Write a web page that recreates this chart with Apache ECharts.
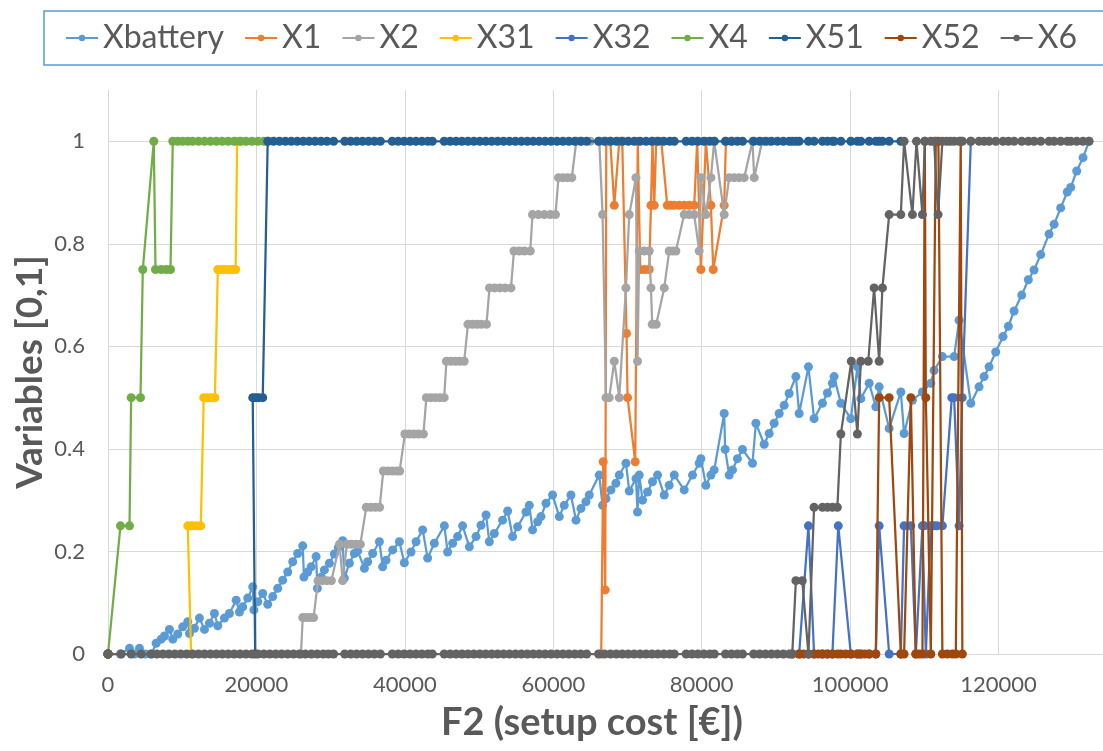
<!DOCTYPE html>
<html>
<head>
<meta charset="utf-8">
<script src="https://cdn.jsdelivr.net/npm/echarts@6/dist/echarts.min.js"></script>
<style>
  html, body { margin: 0; padding: 0; background: #ffffff; overflow: hidden; }
  #chart { width: 1103px; height: 751px; }
</style>
</head>
<body>
<div id="chart"></div>
<script>
// Decision variables along the Pareto front, plotted against setup cost F2 [€].
// Each series is a list of [F2 cost, variable value] pairs.

const seriesNames = ['Xbattery', 'X1', 'X2', 'X31', 'X32', 'X4', 'X51', 'X52', 'X6'];
const seriesColors = ['#5b9bd5', '#ed7d31', '#a5a5a5', '#ffc000', '#4472c4', '#70ad47', '#255e91', '#9e480e', '#636363'];

const xTickValues = [0, 20000, 40000, 60000, 80000, 100000, 120000, 140000];
const yTickValues = [0, 0.2, 0.4, 0.6, 0.8, 1];

const xbattery = [
  [0,0],[1680,0],[2900,0.011],[3570,0],[4240,0.011],[5050,0],[5860,0],[6490,0.021],[7170,0.029],[7610,0.035],
  [8280,0.048],[8730,0.029],[9400,0.039],[10070,0.053],[10750,0.063],[10980,0.040],[11650,0.050],[12320,0.070],
  [13000,0.048],[13670,0.060],[14340,0.079],[14790,0.055],[15690,0.070],[16360,0.079],[17270,0.105],[17710,0.082],
  [18150,0.092],[18830,0.109],[19500,0.131],[19660,0.086],[20180,0.102],[20850,0.118],[21520,0.097],[22200,0.112],
  [22870,0.128],[23540,0.144],[24220,0.160],[24890,0.180],[25560,0.196],[26240,0.211],[26400,0.150],[26910,0.160],
  [27370,0.170],[28040,0.190],[28220,0.128],[28750,0.150],[29160,0.164],[29830,0.177],[30500,0.195],[31040,0.208],
  [31620,0.221],[31850,0.148],[32520,0.177],[33200,0.196],[33640,0.201],[34550,0.167],[34990,0.180],[35660,0.196],
  [36570,0.219],[37010,0.170],[37470,0.183],[38360,0.203],[39260,0.219],[39930,0.178],[40830,0.199],[41510,0.219],
  [42400,0.242],[43070,0.187],[43970,0.216],[45320,0.250],[45760,0.199],[46440,0.216],[47110,0.229],[47780,0.250],
  [48690,0.209],[49590,0.229],[50260,0.251],[50940,0.271],[51380,0.219],[52050,0.235],[53170,0.261],[53850,0.279],
  [54520,0.229],[55190,0.248],[56320,0.277],[56770,0.290],[57210,0.242],[57890,0.258],[58340,0.268],[59020,0.294],
  [59900,0.310],[60810,0.268],[61480,0.290],[62380,0.310],[63060,0.261],[63730,0.284],[64400,0.297],[64850,0.310],
  [66190,0.349],[66640,0.290],[67100,0.303],[67770,0.320],[68440,0.333],[68890,0.349],[69790,0.372],[70240,0.318],
  [71140,0.342],[71350,0.277],[71580,0.349],[72030,0.300],[72700,0.316],[73370,0.336],[74050,0.349],[74950,0.310],
  [75620,0.329],[76300,0.349],[77640,0.320],[78760,0.349],[79660,0.372],[79890,0.381],[80560,0.329],[81240,0.349],
  [81680,0.359],[83030,0.469],[83160,0.399],[83700,0.349],[84150,0.359],[84820,0.381],[85490,0.399],[86840,0.372],
  [87300,0.450],[88420,0.409],[89090,0.430],[89760,0.450],[90440,0.469],[91110,0.485],[91780,0.508],[92690,0.541],
  [93130,0.469],[94380,0.560],[95140,0.459],[96270,0.489],[96940,0.509],[97610,0.528],[97840,0.541],[98750,0.489],
  [100090,0.459],[100980,0.560],[101440,0.498],[102560,0.528],[103460,0.482],[103910,0.521],[105260,0.440],
  [106830,0.511],[107270,0.430],[108390,0.495],[109740,0.511],[110870,0.528],[111310,0.553],[112430,0.580],
  [114010,0.580],[114680,0.651],[116260,0.489],[117370,0.521],[118050,0.541],[118720,0.560],[119620,0.589],
  [120600,0.619],[121320,0.639],[122090,0.669],[123120,0.700],[124010,0.730],[124780,0.749],[125680,0.779],
  [126800,0.819],[127480,0.838],[128370,0.870],[129260,0.901],[129720,0.910],[130530,0.942],[131380,0.968],[132190,1]
];

const x1 = [
  [0,0],[66460,0],[66730,0.375],[67000,0.125],[67140,1],[67680,1],[68220,0.875],[68890,1],[69290,1],[69870,0.625],
  [70010,0.5],[71040,0.375],[71380,1],[71720,0.75],[72320,0.75],[72930,0.75],[73160,0.875],[73370,1],[73600,0.875],
  [73870,1],[74550,1],[75360,0.875],[75850,0.875],[76300,0.875],[76970,0.875],[77640,0.875],[78310,0.875],
  [78990,0.875],[79390,1],[79890,0.75],[80560,1],[81240,0.875],[81550,0.75],[83030,0.875],[83260,1],[84110,1]
];

const x2 = [
  [0,0],[26000,0],[26240,0.071],[26700,0.071],[27200,0.071],[27700,0.071],[28300,0.143],[28900,0.143],[29500,0.143],
  [30100,0.143],[31200,0.214],[31620,0.143],[32200,0.214],[32800,0.214],[33400,0.214],[34000,0.214],[34800,0.286],
  [35400,0.286],[36000,0.286],[36600,0.286],[37100,0.357],[37700,0.357],[38300,0.357],[38900,0.357],[39300,0.357],
  [40000,0.429],[40600,0.429],[41200,0.429],[41800,0.429],[42500,0.429],[42900,0.5],[43500,0.5],[44100,0.5],
  [44700,0.5],[45300,0.5],[45600,0.571],[46200,0.571],[46800,0.571],[47400,0.571],[48000,0.571],[48500,0.643],
  [49100,0.643],[49700,0.643],[50300,0.643],[51000,0.643],[51400,0.714],[52100,0.714],[52800,0.714],[53500,0.714],
  [54300,0.714],[54700,0.786],[55400,0.786],[56100,0.786],[56900,0.786],[57200,0.857],[58000,0.857],[58800,0.857],
  [59600,0.857],[60300,0.857],[60700,0.929],[61300,0.929],[61900,0.929],[62500,0.929],[63100,1],[63800,1],[65000,1],
  [66200,1],[66640,0.857],[67100,0.5],[67540,0.5],[68220,0.571],[68890,0.5],[69790,0.714],[70240,0.857],
  [71140,0.929],[71350,0.571],[71580,0.786],[72260,0.786],[72930,0.786],[73160,0.714],[73330,0.643],[73870,0.643],
  [74950,0.714],[75620,0.786],[76070,0.786],[76520,0.786],[77640,0.857],[78310,0.857],[78990,0.857],[79660,0.786],
  [79890,0.929],[80560,0.857],[81240,0.929],[81680,1],[83030,0.857],[83700,0.929],[84370,0.929],[85050,0.929],
  [85720,0.929],[86840,1],[87070,0.929],[88150,1],[89000,1]
];

const x31 = [
  [0,0],[11200,0],[10750,0.25],[11300,0.25],[11900,0.25],[12500,0.25],[12900,0.5],[13400,0.5],[13900,0.5],
  [14400,0.5],[14800,0.75],[15300,0.75],[15800,0.75],[16300,0.75],[16800,0.75],[17200,0.75],[17400,1],[18000,1]
];

const x32 = [
  [0,0],[93130,0],[94380,0.25],[95140,0],[96270,0],[96940,0],[97610,0],[98400,0.25],[100090,0],[100980,0],
  [101440,0],[102560,0],[103460,0],[103910,0.25],[105260,0],[106830,0],[107270,0.25],[108180,0.25],[108850,0],
  [109740,0.25],[110000,0.25],[110200,0],[110870,0.25],[111310,0.25],[111700,0.25],[112430,0.25],[113700,0.5],
  [114010,0.5],[114680,0.25],[115100,0.5],[116260,1]
];

const x4 = [
  [0,0],[1680,0.25],[2900,0.25],[3120,0.5],[4380,0.5],[4690,0.75],[6170,1],[6400,0.75],[7170,0.75],[7840,0.75],
  [8420,0.75],[8730,1],[9400,1],[10070,1],[10750,1],[11400,1],[12200,1],[13000,1],[13800,1],[14600,1],[15400,1],
  [16200,1],[17000,1],[17800,1],[18600,1],[19400,1],[20200,1],[21000,1],[21520,1]
];

const x51 = [
  [0,0],[19830,0],[19500,0.5],[19900,0.5],[20300,0.5],[20850,0.5],[21520,1],[22300,1],[23100,1],[23900,1],
  [24700,1],[25500,1],[26300,1],[27100,1],[27900,1],[28700,1],[29500,1],[30400,1],[31900,1],[32700,1],[33500,1],
  [34300,1],[35100,1],[35900,1],[36700,1],[38300,1],[39100,1],[39900,1],[40700,1],[41500,1],[42300,1],[43100,1],
  [43700,1],[45300,1],[46100,1],[46900,1],[47700,1],[48500,1],[49300,1],[50100,1],[50900,1],[51700,1],[52500,1],
  [53300,1],[54100,1],[54900,1],[55700,1],[56500,1],[57300,1],[58100,1],[58900,1],[59700,1],[60500,1],[61300,1],
  [62100,1],[62900,1],[63700,1],[64500,1],[66100,1],[66900,1],[67700,1],[68500,1],[69300,1],[70100,1],[70900,1],
  [71700,1],[72500,1],[73300,1],[74100,1],[74900,1],[75700,1],[76300,1],[77900,1],[78700,1],[79500,1],[80300,1],
  [81100,1],[81700,1],[83200,1],[84000,1],[84800,1],[85500,1],[87000,1],[87800,1],[88600,1],[89400,1],[90200,1],
  [91000,1],[91800,1],[92200,1],[92690,1],[93130,1],[94380,1],[95140,1],[96270,1],[96940,1],[97610,1],[97840,1],
  [98750,1],[100090,1],[100980,1],[101440,1],[102560,1],[103460,1],[103910,1],[104350,1],[105260,1],[106830,1]
];

const x52 = [
  [0,0],[92200,0],[93130,0],[93700,0],[94380,0],[95140,0],[95700,0],[96270,0],[96940,0],[97610,0],[98300,0],
  [98750,0],[99400,0],[100090,0],[100980,0],[101440,0],[102000,0],[102560,0],[103460,0],[103910,0.5],[105260,0.5],
  [106830,0],[107270,0],[108180,0.5],[108850,0],[109300,0],[109740,0],[110060,1],[110200,0.5],[110870,0],
  [111540,1],[111890,1],[112430,0],[113100,0],[113780,0],[114240,0],[114900,1],[115120,0]
];

const x6 = [
  [0,0],[1780,0],[3120,0],[4470,0],[5800,0],[6600,0],[7400,0],[8200,0],[9000,0],[9800,0],[10600,0],[11400,0],
  [12200,0],[13000,0],[13800,0],[14600,0],[15400,0],[16200,0],[17000,0],[17800,0],[18600,0],[19400,0],[20200,0],
  [21000,0],[21800,0],[22600,0],[23400,0],[24200,0],[25000,0],[25800,0],[26600,0],[27400,0],[28200,0],[29000,0],
  [29700,0],[30400,0],[31900,0],[32700,0],[33500,0],[34300,0],[35100,0],[35900,0],[36700,0],[38300,0],[39100,0],
  [39900,0],[40700,0],[41500,0],[42300,0],[43100,0],[43700,0],[45300,0],[46100,0],[46900,0],[47700,0],[48500,0],
  [49300,0],[50100,0],[50900,0],[51700,0],[52500,0],[53300,0],[54100,0],[54900,0],[55700,0],[56500,0],[57300,0],
  [58100,0],[58900,0],[59700,0],[60500,0],[61300,0],[62100,0],[62900,0],[63700,0],[64500,0],[66100,0],[66900,0],
  [67700,0],[68500,0],[69300,0],[70100,0],[70900,0],[71700,0],[72500,0],[73300,0],[74100,0],[74900,0],[75700,0],
  [76300,0],[77900,0],[78700,0],[79500,0],[80300,0],[81100,0],[81700,0],[83200,0],[84000,0],[84800,0],[85500,0],
  [87000,0],[87800,0],[88600,0],[89400,0],[90200,0],[91000,0],[91800,0],[92200,0],[92690,0.143],[93550,0.143],
  [94380,0],[95140,0.286],[96270,0.286],[96940,0.286],[97610,0.286],[98280,0.286],[98750,0.429],[100160,0.571],
  [100980,0.429],[101440,0.571],[102440,0.571],[103230,0.714],[103910,0.571],[104350,0.714],[105260,0.857],
  [106830,0.857],[107270,1],[108390,0.857],[108940,1],[109740,0.857],[110060,1],[110870,1],[111310,1],
  [111850,0.857],[112430,1],[113000,1],[113500,1],[114010,1],[114680,1],[115120,1],[116260,1],[117370,1],
  [118050,1],[118720,1],[119620,1],[120600,1],[121320,1],[122090,1],[123120,1],[124010,1],[124780,1],[125680,1],
  [126800,1],[127480,1],[128370,1],[129260,1],[129720,1],[130530,1],[131380,1],[132190,1]
];

const seriesData = [xbattery, x1, x2, x31, x32, x4, x51, x52, x6];

const FONT = 'Lato, "Open Sans", sans-serif';
const TEXT_COLOR = '#595959';
const GRID_COLOR = '#d9d9d9';

const chart = echarts.init(document.getElementById('chart'), null, { renderer: 'canvas' });

// One split-line colour per tick; the extra tick at the axis max (1.1) stays invisible.
const ySplitColors = yTickValues.map(() => GRID_COLOR).concat(['rgba(0,0,0,0)']);

chart.setOption({
  animation: false,
  backgroundColor: '#ffffff',
  textStyle: { fontFamily: FONT },
  legend: {
    data: seriesNames,
    left: 44,
    top: 11,
    width: 1100,
    padding: [11, 40, 11, 21],
    itemGap: 20,
    itemWidth: 32,
    itemHeight: 8,
    borderColor: '#5b9bd5',
    borderWidth: 1.5,
    backgroundColor: '#ffffff',
    textStyle: { fontSize: 32, color: TEXT_COLOR, fontFamily: FONT }
  },
  // The plot runs past the right edge of the canvas (140000 lies outside it).
  grid: { left: 108, top: 90, width: 1039, height: 564, containLabel: false, outerBoundsMode: 'none' },
  xAxis: {
    type: 'value',
    min: xTickValues[0],
    max: xTickValues[xTickValues.length - 1],
    interval: 20000,
    axisLine: { show: true, onZero: false, lineStyle: { color: GRID_COLOR, width: 1 } },
    axisTick: { show: false },
    axisLabel: { color: TEXT_COLOR, fontSize: 22, margin: 20, fontFamily: FONT, formatter: v => String(v) },
    splitLine: { show: true, lineStyle: { color: GRID_COLOR, width: 1 } }
  },
  yAxis: {
    type: 'value',
    min: 0,
    max: 1.1,
    interval: 0.2,
    axisLine: { show: false },
    axisTick: { show: false },
    axisLabel: {
      color: TEXT_COLOR, fontSize: 22, margin: 23, fontFamily: FONT,
      formatter: v => (v > 1.05 ? '' : String(Math.round(v * 10) / 10))
    },
    splitLine: { show: true, lineStyle: { color: ySplitColors, width: 1 } }
  },
  graphic: [
    {
      type: 'text', x: 30, y: 372, rotation: Math.PI / 2,
      style: { text: 'Variables [0,1]', fill: TEXT_COLOR, font: 'bold 37px ' + FONT, align: 'center', verticalAlign: 'middle' }
    },
    {
      type: 'text', x: 592, y: 723,
      style: { text: 'F2 (setup cost [€])', fill: TEXT_COLOR, font: 'bold 38px ' + FONT, align: 'center', verticalAlign: 'middle' }
    }
  ],
  series: seriesNames.map((name, i) => ({
    name: name,
    type: 'line',
    data: seriesData[i],
    color: seriesColors[i],
    symbol: 'circle',
    symbolSize: 9,
    showSymbol: true,
    lineStyle: { width: 2.25, color: seriesColors[i] },
    itemStyle: { color: seriesColors[i] },
    emphasis: { disabled: true },
    z: 2 + i
  }))
});
</script>
</body>
</html>
